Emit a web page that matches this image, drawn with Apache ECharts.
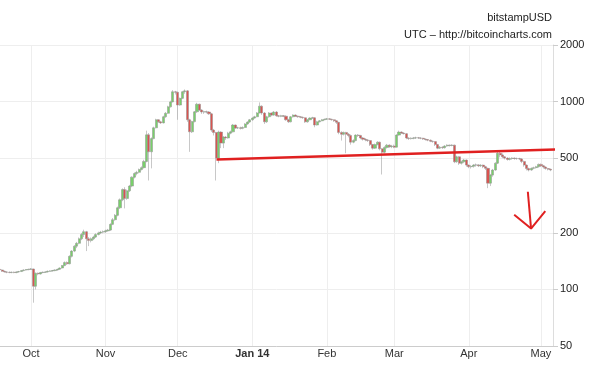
<!DOCTYPE html>
<html><head><meta charset="utf-8">
<script src="https://cdn.jsdelivr.net/npm/echarts@6/dist/echarts.min.js"></script>
<style>html,body{margin:0;padding:0;background:#fff}#c{width:593px;height:373px}</style>
</head><body><div id="c"></div>
<script>
// Daily candles [open, close, low, high], bitstampUSD, one array per month
const firstDay = [2013, 8, 18]; // 18 Sep 2013, consecutive days follow
const sep = [
[128,127,126,129],[127,125,124,128],[125,124,123,126],[124,123.5,122,125],[123.5,123,122,124.5],
[123,123.5,122,124.5],[123.5,123,122,124.5],[123,124,122,125],[124,124.5,123,125.5],[124.5,126,124,127],
[126,127,125,128],[127,127.5,126,128.5],[127.5,128,126.5,129]];
const oct = [
[128,128.5,127,130],[128.5,104,85,129],[104,122,100,123],[122,121,119,123],[121,123,120,124],
[123,123.5,122,124.5],[123.5,124,122.5,125],[124,125,123,126],[125,125.5,124,126.5],[125.5,126,124.5,127],
[126,127,125,128],[127,128,126,129],[128,130,127,131],[130,134,129,135],[134,139,133,141],
[139,137,135,141],[137,150,136,152],[150,160,148,162],[160,170,158,172],[170,176,166,179],
[176,186,174,189],[186,196,183,200],[196,203,190,208],[203,186,160,205],[186,182,170,190],
[182,186,178,189],[186,190,183,193],[190,196,188,199],[196,200,194,203],[200,202,197,205],[202,203,199,206]];
const nov = [
[203,205,200,208],[205,207,203,210],[207,222,205,225],[222,235,220,240],[235,248,232,252],
[248,272,245,276],[272,300,268,305],[300,340,295,345],[340,305,270,350],[305,335,300,340],
[335,355,330,360],[355,396,350,400],[396,414,390,420],[414,420,405,428],[420,435,415,440],
[435,445,430,452],[445,480,440,490],[480,665,475,700],[665,540,380,680],[540,635,441,645],
[635,725,630,735],[725,800,720,810],[800,780,770,805],[780,770,760,790],[770,830,765,840],
[830,866,820,880],[866,937,860,950],[937,996,930,1010],[996,1128,990,1150],[1128,1120,1090,1140]];
const dec = [
[1120,958,800,1130],[958,1040,950,1050],[1040,1128,1030,1140],[1128,1140,1100,1160],[1140,800,780,1150],
[800,690,540,810],[690,782,680,790],[782,882,775,890],[882,968,870,985],[968,902,890,975],
[902,880,860,910],[880,882,860,895],[882,880,865,895],[880,860,850,890],[860,705,690,870],
[705,684,660,715],[684,500,380,690],[500,688,470,700],[688,601,565,695],[601,647,565,655],
[647,640,625,655],[640,679,635,690],[679,690,670,700],[690,750,685,760],[750,723,715,755],
[723,725,715,735],[725,720,710,735],[720,728,712,738],[728,760,722,768],[760,778,752,785],[778,800,770,808]];
const jan = [
[800,817,790,825],[817,830,810,840],[830,870,825,880],[870,945,865,990],[945,869,850,955],
[869,780,760,880],[780,830,770,840],[830,869,820,880],[869,847,835,875],[847,880,840,890],
[880,840,830,890],[840,835,825,848],[835,840,826,850],[840,836,826,848],[836,800,790,845],
[800,780,770,810],[780,830,775,838],[830,847,822,855],[847,836,828,855],[836,830,820,842],
[830,825,815,838],[825,820,810,832],[820,780,770,825],[780,800,772,808],[800,817,795,825],
[817,820,808,830],[820,750,730,825],[750,780,745,790],[780,790,775,798],[790,800,785,808],[800,805,795,812]];
const feb = [
[805,810,798,818],[810,805,798,815],[805,800,792,810],[800,790,780,805],[790,775,760,795],
[775,685,670,780],[685,670,620,695],[670,685,660,692],[685,670,531,690],[670,660,645,680],
[660,608,590,668],[608,620,600,630],[620,663,615,670],[663,660,648,672],[660,640,630,665],
[640,630,620,648],[630,625,615,638],[625,620,610,632],[620,590,580,625],[590,565,555,595],
[565,590,560,598],[590,608,585,615],[608,560,550,612],[560,538,409,565],[538,570,530,578],
[570,586,562,595],[586,575,568,592],[575,580,565,588]];
const mar = [
[580,572,565,590],[572,663,570,670],[663,688,658,700],[688,680,672,694],[680,675,668,686],
[675,640,630,680],[640,635,625,645],[635,638,628,645],[638,640,630,648],[640,642,632,650],
[642,640,632,648],[640,638,630,646],[638,632,625,642],[632,628,620,636],[628,623,615,632],
[623,615,608,628],[615,612,604,620],[612,590,580,616],[590,565,558,595],[565,572,560,580],
[572,568,560,578],[568,580,562,586],[580,586,575,592],[586,584,576,590],[584,586,578,592],
[586,478,470,590],[478,508,472,515],[508,470,460,512],[470,478,462,485],[478,488,470,495],[488,459,450,492]];
const apr = [
[459,450,442,462],[450,452,440,460],[452,459,445,465],[459,460,450,468],[460,455,448,465],
[455,459,448,464],[459,450,442,462],[450,441,432,455],[441,368,346,445],[368,406,355,412],
[406,432,398,438],[432,470,428,475],[470,531,465,540],[531,520,505,545],[520,508,500,530],
[508,500,492,512],[500,492,485,505],[492,498,486,504],[498,500,490,505],[500,498,490,504],
[498,497,490,503],[497,495,488,502],[495,480,470,500],[480,459,450,485],[459,440,430,463],
[440,432,425,445],[432,441,428,446],[441,445,436,450],[445,450,440,455],[450,463,445,468]];
const may = [
[463,455,448,468],[455,448,440,460],[448,440,434,452],[440,436,430,444],[436,432,426,440]];

// Axis ticks
const monthStarts = ['2013-10-01','2013-11-01','2013-12-01','2014-01-01','2014-02-01','2014-03-01','2014-04-01','2014-05-01'];
const monthLabels = ['Oct','Nov','Dec','Jan 14','Feb','Mar','Apr','May'];
const boldLabels = ['Jan 14'];
const yTicks = [50, 100, 200, 500, 1000, 2000];

// Annotations (date, price)
const trendDates = ['2013-12-17T03:00:00Z', '2014-05-16T05:00:00Z'];
const trendValues = [492, 560];
const shaftDates = ['2014-04-25T13:00:00Z', '2014-04-26T21:00:00Z'];
const shaftValues = [331, 211];
const headDates = ['2014-04-19T21:00:00Z', '2014-04-26T21:00:00Z', '2014-05-02T19:00:00Z'];
const headValues = [250, 211, 261];

const candles = [].concat(sep, oct, nov, dec, jan, feb, mar, apr, may);
const candleData = candles.map((c, i) => [Date.UTC(firstDay[0], firstDay[1], firstDay[2] + i), c[0], c[1], c[2], c[3]]);
const tickTimes = monthStarts.map(s => Date.parse(s + 'T00:00:00Z'));
const toPts = (ds, vs) => ds.map((d, i) => [Date.parse(d), vs[i]]);

const chart = echarts.init(document.getElementById('c'));
const FONT = 'Liberation Sans, Arial, sans-serif';
chart.setOption({
  animation: false,
  backgroundColor: '#fff',
  textStyle: { fontFamily: FONT },
  title: [
    { text: 'bitstampUSD', right: 41, top: 12, padding: 0, textStyle: { fontSize: 11, fontWeight: 'normal', color: '#222', fontFamily: FONT } },
    { text: 'UTC – http://bitcoincharts.com', right: 41, top: 29, padding: 0, textStyle: { fontSize: 11, fontWeight: 'normal', color: '#222', fontFamily: FONT } }
  ],
  grid: { left: 0, right: 40, top: 45, bottom: 27, containLabel: false },
  xAxis: {
    type: 'value',
    min: Date.UTC(2013, 8, 18, 3),
    max: Date.UTC(2014, 4, 6, 0),
    axisLine: { show: true, lineStyle: { color: '#cccccc', width: 1 } },
    axisTick: { show: false, customValues: tickTimes },
    splitLine: { show: true, lineStyle: { color: '#eeeeee', width: 1 } },
    axisLabel: {
      customValues: tickTimes,
      fontSize: 11, color: '#333', margin: 2, fontFamily: FONT, hideOverlap: false,
      formatter: function (v) {
        let idx = 0, best = Infinity;
        tickTimes.forEach((t, i) => { const d = Math.abs(t - v); if (d < best) { best = d; idx = i; } });
        const lab = monthLabels[idx];
        return boldLabels.indexOf(lab) >= 0 ? '{b|' + lab + '}' : lab;
      },
      rich: { b: { fontWeight: 'bold', fontSize: 11, color: '#333', fontFamily: FONT } }
    }
  },
  yAxis: {
    type: 'log', logBase: 10, min: 50, max: 2000, position: 'right',
    axisLine: { show: true, lineStyle: { color: '#dddddd' } },
    axisTick: { show: true, length: 5, customValues: yTicks, lineStyle: { color: '#cccccc' } },
    axisLabel: { customValues: yTicks, fontSize: 11, color: '#222', margin: 7, fontFamily: FONT,
      formatter: function (v) { return String(Math.round(v)); } },
    splitLine: { show: true, lineStyle: { color: '#eeeeee' } }
  },
  series: [
    {
      type: 'candlestick', data: candleData, barWidth: 2.6,
      itemStyle: { color: '#78d06a', color0: '#d9534f', borderColor: '#909090', borderColor0: '#909090', borderWidth: 0.5 }
    },
    { type: 'line', data: toPts(trendDates, trendValues), symbol: 'none', clip: false, silent: true, z: 5,
      lineStyle: { color: '#e02020', width: 2.5 } },
    { type: 'line', data: toPts(shaftDates, shaftValues), symbol: 'none', clip: false, silent: true, z: 5,
      lineStyle: { color: '#e02020', width: 2 } },
    { type: 'line', data: toPts(headDates, headValues), symbol: 'none', clip: false, silent: true, z: 5,
      lineStyle: { color: '#e02020', width: 2 } }
  ]
});
</script></body></html>
